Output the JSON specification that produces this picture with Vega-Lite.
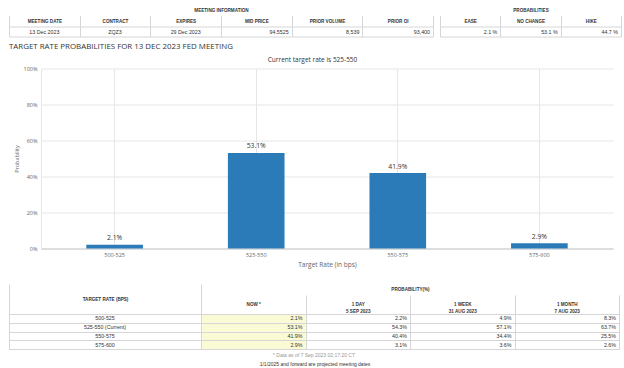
{
  "$schema": "https://vega.github.io/schema/vega-lite/v6.json",
  "padding": {"left": 8, "top": 6.5, "right": 0, "bottom": 0},
  "background": "white",
  "title": {"text": "1/1/2025 and forward are projected meeting dates", "orient": "bottom", "anchor": "middle", "fontSize": 5, "font": "Liberation Sans", "fontWeight": "normal", "color": "#333", "offset": 4},
  "config": {
    "font": "Liberation Sans",
    "view": {"stroke": null},
    "axis": {"minExtent": 0, "labelOverlap": false}
  },
  "columns": 1,
  "spacing": 15.5,
  "concat": [
    {
      "columns": 1,
      "spacing": 5,
      "concat": [
        {
          "spacing": 5,
          "hconcat": [
            {
              "width": 424,
              "height": 10,
              "view": {"stroke": "#d6d6d6"},
              "data": {"values": [
                {"col": "MEETING DATE", "val": "13 Dec 2023"},
                {"col": "CONTRACT", "val": "ZQZ3"},
                {"col": "EXPIRES", "val": "29 Dec 2023"},
                {"col": "MID PRICE", "val": "94.5525"},
                {"col": "PRIOR VOLUME", "val": "8,539"},
                {"col": "PRIOR OI", "val": "93,400"}
              ]},
              "encoding": {
                "x": {"field": "col", "type": "nominal",
                  "scale": {"domain": ["MEETING DATE", "CONTRACT", "EXPIRES", "MID PRICE", "PRIOR VOLUME", "PRIOR OI"], "paddingInner": 0, "paddingOuter": 0},
                  "axis": {"orient": "top", "title": "MEETING INFORMATION", "titleFontSize": 4.6, "titleFontWeight": "bold", "titleColor": "#333", "titlePadding": 3,
                    "labelFontSize": 4.6, "labelFontWeight": "bold", "labelColor": "#333", "labelAngle": 0, "labelBaseline": "middle", "labelPadding": -5.5,
                    "tickBand": "extent", "tickSize": 11, "tickColor": "#d6d6d6", "domain": false, "grid": true, "gridColor": "#d6d6d6"}}
              },
              "layer": [
                {
                  "transform": [{"filter": {"field": "col", "oneOf": ["MEETING DATE", "CONTRACT", "EXPIRES"]}}],
                  "mark": {"type": "text", "fontSize": 5.3, "color": "#333"},
                  "encoding": {"text": {"field": "val"}}
                },
                {
                  "transform": [{"filter": {"field": "col", "oneOf": ["MID PRICE", "PRIOR VOLUME", "PRIOR OI"]}}],
                  "mark": {"type": "text", "fontSize": 5.3, "color": "#333", "align": "right", "dx": -3},
                  "encoding": {
                    "x": {"field": "col", "type": "nominal", "bandPosition": 1},
                    "text": {"field": "val"}
                  }
                }
              ]
            },
            {
              "width": 181,
              "height": 10,
              "view": {"stroke": "#d6d6d6"},
              "data": {"values": [
                {"col": "EASE", "val": "2.1 %"},
                {"col": "NO CHANGE", "val": "53.1 %"},
                {"col": "HIKE", "val": "44.7 %"}
              ]},
              "mark": {"type": "text", "fontSize": 5.3, "color": "#333", "align": "right", "dx": -3},
              "encoding": {
                "x": {"field": "col", "type": "nominal", "bandPosition": 1,
                  "scale": {"domain": ["EASE", "NO CHANGE", "HIKE"], "paddingInner": 0, "paddingOuter": 0},
                  "axis": {"orient": "top", "title": "PROBABILITIES", "titleFontSize": 4.6, "titleFontWeight": "bold", "titleColor": "#333", "titlePadding": 3,
                    "labelFontSize": 4.6, "labelFontWeight": "bold", "labelColor": "#333", "labelAngle": 0, "labelBaseline": "middle", "labelPadding": -5.5,
                    "tickBand": "extent", "tickSize": 11, "tickColor": "#d6d6d6", "domain": false, "grid": true, "gridColor": "#d6d6d6"}},
                "text": {"field": "val"}
              }
            }
          ]
        },
        {
          "width": 604,
          "height": 180,
          "title": {"text": "TARGET RATE PROBABILITIES FOR 13 DEC 2023 FED MEETING", "anchor": "start", "frame": "group", "fontSize": 7.9, "font": "Open Sans", "fontWeight": "normal", "color": "#333", "offset": 5},
          "data": {"values": [
            {"rate": "500-525", "p": 0.021},
            {"rate": "525-550", "p": 0.531},
            {"rate": "550-575", "p": 0.419},
            {"rate": "575-600", "p": 0.029}
          ]},
          "encoding": {
            "y": {"field": "p", "type": "quantitative", "scale": {"domain": [0, 1]},
              "axis": {"offset": -32, "title": "Probability", "titleFont": "Open Sans", "titleFontSize": 5.5, "titleFontWeight": "normal", "titleColor": "#666", "titlePadding": 4,
                "format": ".0%", "values": [0, 0.2, 0.4, 0.6, 0.8, 1], "labelFont": "Open Sans", "labelFontSize": 5.5, "labelColor": "#666", "labelPadding": 4,
                "ticks": false, "domain": true, "domainColor": "#e6e6e6", "gridColor": "#e6e6e6"}}
          },
          "layer": [
            {
              "mark": {"type": "bar", "color": "#2b7bb8"},
              "encoding": {
                "x": {"field": "rate", "type": "nominal", "sort": null, "scale": {"range": [32, 604], "paddingInner": 0.6, "paddingOuter": 0.32},
                  "axis": {"orient": "bottom", "title": "Target Rate (in bps)", "titleFont": "Open Sans", "titleFontSize": 6.5, "titleFontWeight": "normal", "titleColor": "#666", "titlePadding": 3,
                    "labelAngle": 0, "labelFont": "Open Sans", "labelFontSize": 5.5, "labelColor": "#666", "labelPadding": 4,
                    "ticks": false, "domainColor": "#c8c8c8", "grid": true, "gridColor": "#e6e6e6", "tickBand": "center"}}
              }
            },
            {
              "mark": {"type": "text", "dy": -6.5, "fontSize": 6.8, "font": "Open Sans", "color": "#333"},
              "encoding": {
                "x": {"field": "rate", "type": "nominal", "sort": null,
                  "axis": {"orient": "top", "labels": false, "ticks": false, "domain": false, "grid": false,
                    "title": "Current target rate is 525-550", "titleX": 303, "titleFont": "Open Sans", "titleFontSize": 6.5, "titleFontWeight": "normal", "titleColor": "#333", "titlePadding": 6.5}},
                "text": {"field": "p", "format": ".1%"}
              }
            }
          ],
          "resolve": {"axis": {"x": "independent"}}
        }
      ]
    },
    {
      "spacing": 0,
      "bounds": "flush",
      "title": {"text": "* Data as of 7 Sep 2023 02:17:20 CT", "orient": "bottom", "anchor": "middle", "fontSize": 5, "font": "Liberation Sans", "fontWeight": "normal", "color": "#999", "offset": 3},
      "hconcat": [
        {
          "width": 192,
          "height": 35,
          "view": {"stroke": "#d6d6d6"},
          "data": {"values": [
            {"r": "500-525"},
            {"r": "525-550 (Current)"},
            {"r": "550-575"},
            {"r": "575-600"}
          ]},
          "mark": {"type": "text", "fontSize": 5.3, "color": "#333"},
          "encoding": {
            "x": {"datum": "TARGET RATE (BPS)", "type": "nominal", "scale": {"paddingInner": 0, "paddingOuter": 0},
              "axis": {"orient": "top", "title": null, "labelFontSize": 4.6, "labelFontWeight": "bold", "labelColor": "#333", "labelAngle": 0, "labelBaseline": "middle", "labelPadding": -15,
                "tickBand": "extent", "tickSize": 30, "tickColor": "#d6d6d6", "domain": false, "grid": false}},
            "y": {"field": "r", "type": "nominal", "sort": null, "scale": {"paddingInner": 0, "paddingOuter": 0},
              "axis": {"labels": false, "ticks": false, "domain": false, "title": null, "grid": true, "tickBand": "extent", "gridColor": "#d6d6d6"}},
            "text": {"field": "r"}
          }
        },
        {
          "width": 418,
          "height": 35,
          "view": {"stroke": "#d6d6d6"},
          "data": {"values": [
            {"rate": "500-525", "col": "NOW *", "v": "2.1%"},
            {"rate": "500-525", "col": "1 DAY|5 SEP 2023", "v": "2.2%"},
            {"rate": "500-525", "col": "1 WEEK|31 AUG 2023", "v": "4.9%"},
            {"rate": "500-525", "col": "1 MONTH|7 AUG 2023", "v": "8.3%"},
            {"rate": "525-550", "col": "NOW *", "v": "53.1%"},
            {"rate": "525-550", "col": "1 DAY|5 SEP 2023", "v": "54.3%"},
            {"rate": "525-550", "col": "1 WEEK|31 AUG 2023", "v": "57.1%"},
            {"rate": "525-550", "col": "1 MONTH|7 AUG 2023", "v": "63.7%"},
            {"rate": "550-575", "col": "NOW *", "v": "41.9%"},
            {"rate": "550-575", "col": "1 DAY|5 SEP 2023", "v": "40.4%"},
            {"rate": "550-575", "col": "1 WEEK|31 AUG 2023", "v": "34.4%"},
            {"rate": "550-575", "col": "1 MONTH|7 AUG 2023", "v": "25.5%"},
            {"rate": "575-600", "col": "NOW *", "v": "2.9%"},
            {"rate": "575-600", "col": "1 DAY|5 SEP 2023", "v": "3.1%"},
            {"rate": "575-600", "col": "1 WEEK|31 AUG 2023", "v": "3.6%"},
            {"rate": "575-600", "col": "1 MONTH|7 AUG 2023", "v": "2.6%"}
          ]},
          "encoding": {
            "x": {"field": "col", "type": "nominal",
              "scale": {"domain": ["NOW *", "1 DAY|5 SEP 2023", "1 WEEK|31 AUG 2023", "1 MONTH|7 AUG 2023"], "paddingInner": 0, "paddingOuter": 0},
              "axis": {"orient": "top", "zindex": 1, "title": "PROBABILITY(%)", "titleFontSize": 4.6, "titleFontWeight": "bold", "titleColor": "#333", "titlePadding": 3,
                "labelExpr": "split(datum.label, '|')", "labelLineHeight": 6.5,
                "labelFontSize": 4.6, "labelFontWeight": "bold", "labelColor": "#333", "labelAngle": 0, "labelBaseline": "middle", "labelPadding": -9.5,
                "tickBand": "extent", "tickSize": 19, "tickColor": "#d6d6d6", "domain": false, "grid": true, "gridColor": "#d6d6d6"}},
            "y": {"field": "rate", "type": "nominal",
              "scale": {"domain": ["500-525", "525-550", "550-575", "575-600"], "paddingInner": 0, "paddingOuter": 0},
              "axis": {"zindex": 1, "labels": false, "ticks": false, "domain": false, "title": null, "grid": true, "tickBand": "extent", "gridColor": "#d6d6d6"}}
          },
          "layer": [
            {
              "transform": [{"filter": {"field": "col", "equal": "NOW *"}}],
              "mark": {"type": "rect", "color": "#fafad4"}
            },
            {
              "mark": {"type": "text", "fontSize": 5.3, "color": "#333", "align": "right", "dx": -3},
              "encoding": {
                "x": {"field": "col", "type": "nominal", "bandPosition": 1},
                "text": {"field": "v"}
              }
            }
          ]
        }
      ]
    }
  ]
}
